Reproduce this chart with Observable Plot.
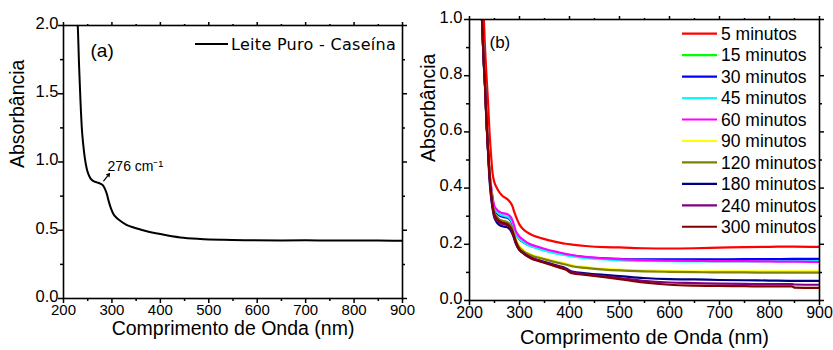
<!DOCTYPE html>
<html><head><meta charset="utf-8">
<script src="https://cdn.jsdelivr.net/npm/d3@7"></script>
<script src="https://cdn.jsdelivr.net/npm/@observablehq/plot@0.6"></script>
<style>
body{margin:0;background:#fff;}
#wrap{position:relative;width:833px;height:350px;overflow:hidden;font-family:"Liberation Sans",Arial,sans-serif;}
#wrap > svg, #wrap > div{position:absolute;top:0;}
</style></head><body><div id="wrap"></div>
<script>
// ---------- shared ticks ----------
const xTicks = [200, 300, 400, 500, 600, 700, 800, 900];
const xMinor = [250, 350, 450, 550, 650, 750, 850];
const yTicksA = [0, 0.5, 1, 1.5, 2];
const yMinorA = [0.25, 0.75, 1.25, 1.75];
const yTicksB = [0, 0.2, 0.4, 0.6, 0.8, 1];
const yMinorB = [0.1, 0.3, 0.5, 0.7, 0.9];
const xTitle = "Comprimento de Onda (nm)";
const yTitle = "Absorbância";

// ---------- panel (a) ----------
const wavelengthA = [228,230,232,235,238,241,244,248,252,256,262,269,276,281,286,290,293,298,303,310,317,330,345,370,400,441,482,530,585,650,700,750,800,850,900];
const absorbanceA = [2.1,1.95,1.72,1.45,1.24,1.12,1.03,0.95,0.905,0.878,0.86,0.851,0.842,0.83,0.80,0.76,0.717,0.66,0.619,0.59,0.57,0.54,0.52,0.495,0.472,0.447,0.436,0.43,0.427,0.425,0.426,0.425,0.424,0.424,0.423];
const legendA = "Leite Puro - Caseína";
const annotationText = "276 cm⁻¹";
const arrowFrom = [283, 0.862];
const arrowTo = [295, 0.915];

// ---------- panel (b) ----------
const seriesLabels = ["5 minutos","15 minutos","30 minutos","45 minutos","60 minutos","90 minutos","120 minutos","180 minutos","240 minutos","300 minutos"];
const seriesColors = ["#ff0000","#00ff00","#0000ff","#00ffff","#ff00ff","#ffff00","#808000","#000080","#800080","#800000"];
const wavelengthB = [222,225,228,231,234,237,240,243,246,249,254,259,266,272,278,282,286,289,292,296,300,306,315,325,339,360,380,392,405,432,470,500,548,600,650,700,750,800,845,850,900];
const abs5   = [1.2,1.09,1.03,0.9,0.8,0.71,0.6,0.52,0.455,0.425,0.403,0.387,0.372,0.365,0.357,0.348,0.335,0.318,0.303,0.285,0.27,0.256,0.243,0.233,0.224,0.214,0.206,0.202,0.199,0.194,0.19,0.189,0.186,0.185,0.186,0.188,0.19,0.191,0.192,0.192,0.191];
const abs15  = [1.1,1.0,0.87,0.77,0.64,0.54,0.455,0.4,0.36,0.332,0.315,0.305,0.3,0.297,0.293,0.286,0.273,0.256,0.241,0.228,0.219,0.211,0.2,0.193,0.185,0.175,0.167,0.163,0.159,0.153,0.149,0.146,0.145,0.145,0.145,0.145,0.146,0.146,0.147,0.147,0.147];
const abs30  = [1.1,1.0,0.87,0.77,0.64,0.54,0.455,0.4,0.36,0.33,0.313,0.304,0.298,0.296,0.292,0.285,0.272,0.255,0.24,0.227,0.218,0.21,0.2,0.193,0.185,0.175,0.168,0.164,0.16,0.154,0.15,0.148,0.146,0.146,0.146,0.146,0.147,0.147,0.148,0.148,0.148];
const abs45  = [1.1,1.0,0.87,0.77,0.64,0.54,0.455,0.405,0.365,0.335,0.318,0.308,0.303,0.3,0.296,0.289,0.276,0.258,0.242,0.228,0.219,0.21,0.199,0.191,0.183,0.173,0.165,0.161,0.157,0.151,0.146,0.143,0.141,0.14,0.139,0.139,0.139,0.14,0.14,0.14,0.14];
const abs60  = [1.1,1.0,0.87,0.77,0.64,0.54,0.46,0.41,0.37,0.34,0.325,0.316,0.311,0.309,0.305,0.298,0.285,0.268,0.25,0.236,0.227,0.218,0.206,0.198,0.19,0.179,0.171,0.166,0.162,0.155,0.15,0.147,0.144,0.142,0.141,0.14,0.14,0.139,0.138,0.138,0.137];
const abs90  = [1.1,1.0,0.87,0.77,0.64,0.54,0.455,0.395,0.345,0.315,0.295,0.285,0.279,0.277,0.273,0.266,0.252,0.235,0.22,0.205,0.193,0.182,0.17,0.162,0.155,0.145,0.136,0.131,0.125,0.119,0.113,0.11,0.107,0.105,0.104,0.104,0.104,0.104,0.104,0.104,0.104];
const abs120 = [1.1,1.0,0.87,0.77,0.64,0.54,0.455,0.395,0.345,0.318,0.3,0.29,0.284,0.281,0.276,0.268,0.254,0.236,0.218,0.2,0.188,0.178,0.167,0.159,0.152,0.142,0.133,0.128,0.122,0.116,0.11,0.107,0.104,0.102,0.101,0.1,0.1,0.099,0.099,0.099,0.099];
const abs180 = [1.1,1.0,0.86,0.76,0.63,0.53,0.43,0.37,0.33,0.3,0.28,0.27,0.264,0.262,0.258,0.25,0.236,0.222,0.205,0.19,0.18,0.171,0.16,0.151,0.143,0.132,0.122,0.115,0.103,0.097,0.091,0.087,0.08,0.076,0.075,0.073,0.072,0.071,0.07,0.07,0.07];
const abs240 = [1.1,1.0,0.87,0.77,0.64,0.54,0.445,0.38,0.335,0.305,0.287,0.278,0.272,0.27,0.265,0.257,0.242,0.226,0.21,0.193,0.181,0.171,0.159,0.15,0.142,0.13,0.12,0.113,0.1,0.093,0.086,0.08,0.07,0.064,0.062,0.06,0.059,0.058,0.058,0.057,0.056];
const abs300 = [1.1,1.0,0.87,0.77,0.64,0.54,0.45,0.385,0.34,0.31,0.292,0.283,0.277,0.274,0.268,0.26,0.245,0.228,0.212,0.193,0.18,0.17,0.158,0.148,0.14,0.128,0.117,0.11,0.097,0.091,0.083,0.076,0.064,0.056,0.053,0.052,0.051,0.05,0.05,0.046,0.045];
const seriesValues = [abs5, abs15, abs30, abs45, abs60, abs90, abs120, abs180, abs240, abs300];

// ---------- helpers ----------
const fmtY = d3.format(".1f");
function frameAxes(yTicks, yMinor, xFont, yFont, yPad) {
  const blank = () => "";
  return [
    Plot.axisX(xTicks, {anchor: "bottom", tickSize: 5, tickPadding: 1, fontSize: xFont, label: null, tickFormat: d => String(d), strokeWidth: 1.5}),
    Plot.axisX(xMinor, {anchor: "bottom", tickSize: 3, tickFormat: blank, label: null, strokeWidth: 1.5}),
    Plot.axisX(xTicks, {anchor: "top", tickSize: 4, tickFormat: blank, label: null, strokeWidth: 1.5}),
    Plot.axisX(xMinor, {anchor: "top", tickSize: 2, tickFormat: blank, label: null, strokeWidth: 1.5}),
    Plot.axisY(yTicks, {anchor: "left", tickSize: 5, tickFormat: blank, label: null, strokeWidth: 1.5}),
    Plot.axisY(yTicks, {anchor: "left", tickSize: 0, tickPadding: 5 + yPad, fontSize: yFont, dy: -2, label: null, tickFormat: fmtY}),
    Plot.axisY(yMinor, {anchor: "left", tickSize: 3, tickFormat: blank, label: null, strokeWidth: 1.5}),
    Plot.axisY(yTicks, {anchor: "right", tickSize: 4, tickFormat: blank, label: null, strokeWidth: 1.5}),
    Plot.axisY(yMinor, {anchor: "right", tickSize: 2, tickFormat: blank, label: null, strokeWidth: 1.5}),
    Plot.frame({stroke: "black", strokeWidth: 1.6})
  ];
}

const wrap = document.getElementById("wrap");

// ---------- panel (a) ----------
const tableA = wavelengthA.map((w, i) => ({wl: w, a: absorbanceA[i]}));
const plotA = Plot.plot({
  width: 415, height: 350,
  marginLeft: 63, marginRight: 13, marginTop: 25, marginBottom: 52,
  style: {fontFamily: '"Liberation Sans", Arial, sans-serif', color: "#000", background: "transparent"},
  x: {domain: [200, 900]},
  y: {domain: [0, 2]},
  marks: [
    Plot.line(tableA, {x: "wl", y: "a", stroke: "black", strokeWidth: 2, curve: "monotone-x", clip: true}),
    Plot.arrow([{x1: arrowFrom[0], y1: arrowFrom[1], x2: arrowTo[0], y2: arrowTo[1]}], {x1: "x1", y1: "y1", x2: "x2", y2: "y2", stroke: "black", strokeWidth: 1.2, headLength: 6}),
    Plot.text([annotationText], {x: arrowTo[0] - 4, y: arrowTo[1] + 0.05, text: d => d, textAnchor: "start", fontSize: 14, letterSpacing: "-0.4px"}),
    Plot.text(["(a)"], {frameAnchor: "top-left", dx: 27, dy: 18, fontSize: 19, textAnchor: "start"}),
    Plot.text([xTitle], {frameAnchor: "bottom", dy: 36, fontSize: 19.5}),
    Plot.text([yTitle], {frameAnchor: "left", dx: -46, dy: 6, rotate: -90, fontSize: 19.5}),
    ...frameAxes(yTicksA, yMinorA, 15, 16.5, 0)
  ]
});
plotA.style.left = "0px";
wrap.appendChild(plotA);

// ---------- panel (b) ----------
const tableB = seriesLabels.flatMap((label, i) => wavelengthB.map((w, j) => ({wl: w, a: seriesValues[i][j], label})));
const plotB = Plot.plot({
  width: 418, height: 350,
  marginLeft: 54, marginRight: 14, marginTop: 19, marginBottom: 50,
  style: {fontFamily: '"Liberation Sans", Arial, sans-serif', color: "#000", background: "transparent"},
  x: {domain: [200, 900]},
  y: {domain: [0, 1]},
  color: {domain: seriesLabels, range: seriesColors},
  marks: [
    Plot.line(tableB, {x: "wl", y: "a", z: "label", stroke: "label", strokeWidth: 2.2, curve: "monotone-x", clip: true}),
    Plot.text(["(b)"], {frameAnchor: "top-left", dx: 20, dy: 16, fontSize: 17, textAnchor: "start"}),
    Plot.text([xTitle], {frameAnchor: "bottom", dy: 43, fontSize: 20}),
    Plot.text([yTitle], {frameAnchor: "left", dx: -41, dy: 2, rotate: -90, fontSize: 19.5}),
    ...frameAxes(yTicksB, yMinorB, 16, 16.5, 2)
  ]
});
plotB.style.left = "415px";
wrap.appendChild(plotB);

// ---------- legends (overlay) ----------
const ov = d3.select(wrap).append("svg")
  .attr("width", 833).attr("height", 350)
  .style("position", "absolute").style("left", "0px").style("top", "0px");
// legend (a)
const la = ov.append("g").attr("transform", "translate(195,44)");
la.append("line").attr("x1", 0).attr("x2", 33).attr("stroke", "black").attr("stroke-width", 2);
la.append("text").attr("x", 36).attr("dy", "0.36em").attr("font-family", '"DejaVu Sans", sans-serif')
  .attr("font-size", 16).attr("letter-spacing", "0.3px").text(legendA);
// legend (b)
const lb = ov.append("g").attr("transform", "translate(682,33.7)");
seriesLabels.forEach((label, i) => {
  const g = lb.append("g").attr("transform", `translate(0,${i * 21.45})`);
  g.append("line").attr("x1", 0).attr("x2", 35).attr("stroke", seriesColors[i]).attr("stroke-width", 2.2);
  g.append("text").attr("x", 39).attr("dy", "0.36em").attr("font-family", '"Liberation Sans", Arial, sans-serif')
    .attr("font-size", 17.5).text(label);
});
</script></body></html>
